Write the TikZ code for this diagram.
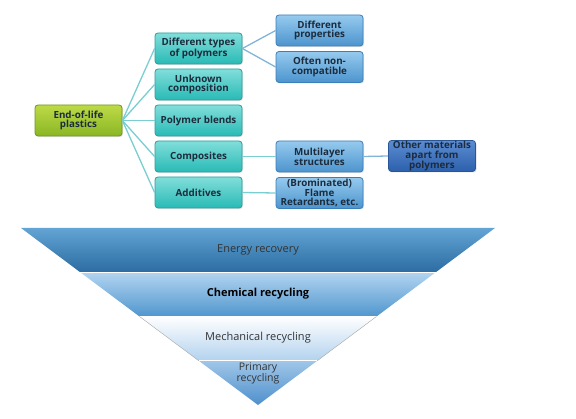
\documentclass[tikz,border=0pt]{standalone}
\usepackage{fontspec}
\setmainfont{Open Sans}
\definecolor{boxtext}{RGB}{28, 44, 60}
\definecolor{greentop}{RGB}{190, 218, 70}
\definecolor{greenbot}{RGB}{138, 182, 36}
\definecolor{greenline}{RGB}{110, 150, 30}
\definecolor{tealtop}{RGB}{130, 222, 218}
\definecolor{tealbot}{RGB}{40, 186, 182}
\definecolor{tealline}{RGB}{40, 160, 158}
\definecolor{bluetop}{RGB}{150, 202, 238}
\definecolor{bluebot}{RGB}{76, 148, 206}
\definecolor{blueline}{RGB}{60, 126, 184}
\definecolor{darktop}{RGB}{92, 140, 210}
\definecolor{darkbot}{RGB}{44, 96, 172}
\definecolor{darkline}{RGB}{40, 86, 150}
\definecolor{connteal}{RGB}{120, 206, 208}
\definecolor{connblue}{RGB}{130, 180, 216}
\usetikzlibrary{positioning, calc, shadows}

\begin{document}
\begin{tikzpicture}[x=1pt, y=-1pt,
  box/.style={rounded corners=3pt, minimum width=87pt, minimum height=31pt,
    align=center, inner sep=0pt, line width=0.8pt, text=boxtext,
    font=\fontsize{9.8}{9.8}\selectfont\bfseries,
    drop shadow={opacity=0.25, shadow xshift=1pt, shadow yshift=-1pt}},
  greenbox/.style={box, draw=greenline, top color=greentop, bottom color=greenbot},
  tealbox/.style={box, draw=tealline, top color=tealtop, bottom color=tealbot},
  bluebox/.style={box, draw=blueline, top color=bluetop, bottom color=bluebot},
  darkbox/.style={box, draw=darkline, top color=darktop, bottom color=darkbot},
  conn/.style={connteal, line width=1.3pt},
  connb/.style={connblue, line width=1.3pt},
  band/.style={font=\fontsize{11}{11}\selectfont, text=black!80}]
  \useasboundingbox (0,0) rectangle (576,419);

  % Root
  \node[greenbox] (eol) at (78.5, 120.5) {End-of-life\\plastics};

  % Causes
  \node[tealbox] (types) at (198.5, 48.5) {Different types\\of polymers};
  \node[tealbox] (unknown) at (198.5, 84.5) {Unknown\\composition};
  \node[tealbox] (blends) at (198.5, 120.5) {Polymer blends};
  \node[tealbox] (compos) at (198.5, 156.5) {Composites};
  \node[tealbox] (addit) at (198.5, 192.5) {Additives};

  % Consequences
  \node[bluebox] (props) at (319.5, 30.5) {Different\\properties};
  \node[bluebox] (noncomp) at (319.5, 67) {Often non-\\compatible};
  \node[bluebox] (multi) at (319.5, 156.5) {Multilayer\\structures};
  \node[bluebox] (flame) at (319.5, 193) {(Brominated)\\Flame\\Retardants, etc.};
  \node[darkbox] (other) at (432, 156) {Other materials\\apart from\\polymers};

  % Connectors
  \foreach \n in {types, unknown, blends, compos, addit}
    \draw[conn] (eol.east) -- (\n.west);
  \draw[connb] (types.east) -- (props.west);
  \draw[connb] (types.east) -- (noncomp.west);
  \draw[conn] (compos.east) -- (multi.west);
  \draw[conn] (addit.east) -- (flame.west);
  \draw[connb] (multi.east) -- (other.west);

  % Pyramid
  \coordinate (tl) at (21, 228);
  \coordinate (tr) at (495, 228);
  \coordinate (apex) at (258, 405);
  \coordinate (l1) at ($(tl)!0.25!(apex)$);
  \coordinate (r1) at ($(tr)!0.25!(apex)$);
  \coordinate (l2) at ($(tl)!0.5!(apex)$);
  \coordinate (r2) at ($(tr)!0.5!(apex)$);
  \coordinate (l3) at ($(tl)!0.75!(apex)$);
  \coordinate (r3) at ($(tr)!0.75!(apex)$);

  \shade[top color={rgb,255:red,98;green,164;blue,212}, bottom color={rgb,255:red,44;green,108;blue,162}]
    (tl) -- (tr) -- (r1) -- (l1) -- cycle;
  \shade[top color={rgb,255:red,178;green,212;blue,240}, bottom color={rgb,255:red,80;green,150;blue,206}]
    (l1) -- (r1) -- (r2) -- (l2) -- cycle;
  \shade[top color=white, bottom color={rgb,255:red,178;green,210;blue,238}]
    (l2) -- (r2) -- (r3) -- (l3) -- cycle;
  \shade[top color={rgb,255:red,160;green,198;blue,232}, bottom color={rgb,255:red,78;green,144;blue,204}]
    (l3) -- (r3) -- (apex) -- cycle;
  \draw[white, line width=0.6pt] (l1) -- (r1) (l2) -- (r2) (l3) -- (r3);
  \draw[black!35, line width=0.4pt] (l2) -- (l3) (r2) -- (r3);

  \node[band] (energy) at (258, 250) {Energy recovery};
  \node[band, font=\fontsize{11}{11}\selectfont\bfseries, text=black] (chem) at (258, 294) {Chemical recycling};
  \node[band] (mech) at (258, 338) {Mechanical recycling};
  \node[band, align=center, font=\fontsize{10.5}{11}\selectfont] (prim) at (258, 373) {Primary\\recycling};
\end{tikzpicture}
\end{document}
